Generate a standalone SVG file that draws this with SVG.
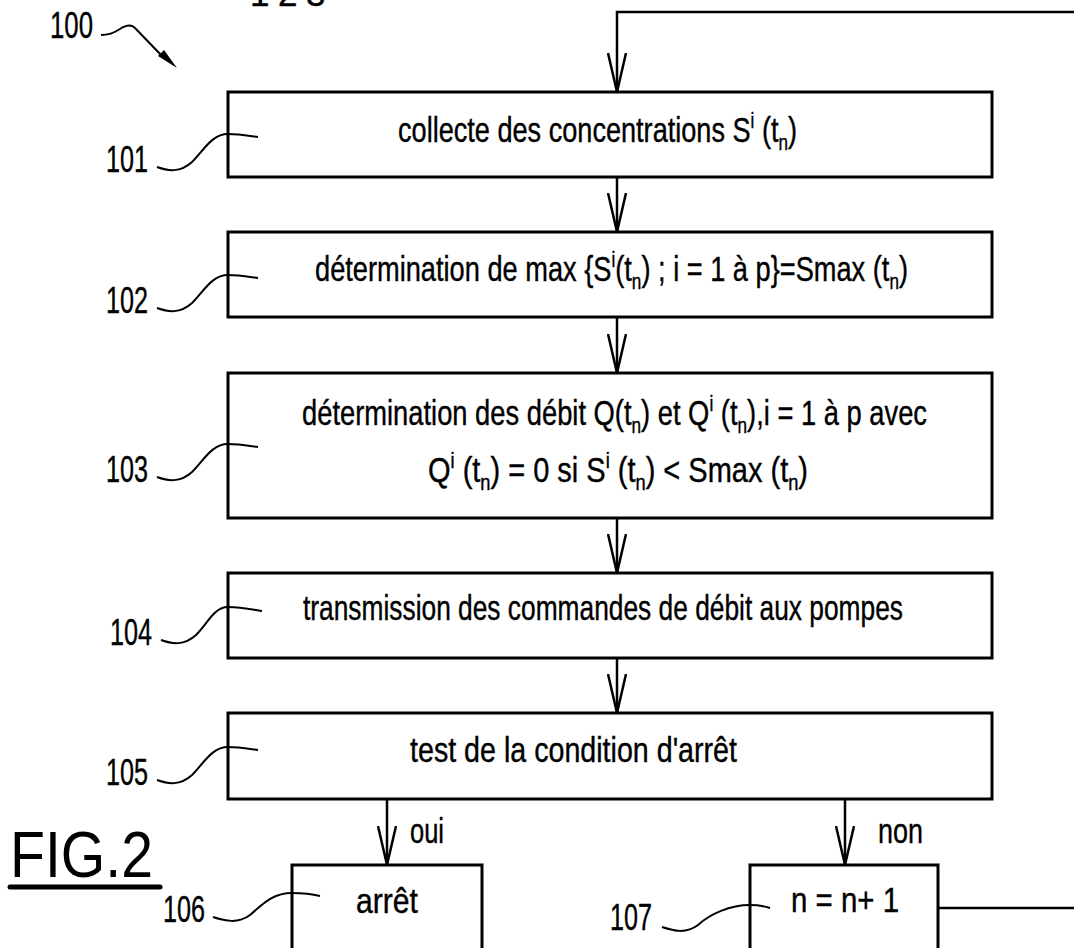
<svg xmlns="http://www.w3.org/2000/svg" width="1074" height="948" viewBox="0 0 1074 948">
<style>
.box{fill:#fff;stroke:#000;stroke-width:3}
.ln{fill:none;stroke:#000;stroke-width:2.5}
.ld{fill:none;stroke:#000;stroke-width:2}
.t{font-family:"Liberation Sans",Arial,sans-serif;font-size:35px;fill:#000;stroke:#000;stroke-width:0.4}
.lb{font-family:"Liberation Sans",Arial,sans-serif;font-size:36px;fill:#000;stroke:#000;stroke-width:0.4}
.s{font-size:22px}
</style>
<defs>
<marker id="v" viewBox="0 0 40 20" refX="39" refY="10" markerWidth="40" markerHeight="20" markerUnits="userSpaceOnUse" orient="auto">
<path d="M0,1 L39,10 L0,19" fill="none" stroke="#000" stroke-width="2.5"/>
</marker>
</defs>
<rect width="1074" height="948" fill="#fff"/>
<g id="top-cut">
<text x="250" y="6" class="t" font-size="22">1</text>
<text x="278" y="6" class="t" font-size="22">2</text>
<text x="306" y="6" class="t" font-size="22">3</text>
</g>
<g id="connectors">
<path class="ln" d="M1074,12 L617,12 L617,92" marker-end="url(#v)"/>
<path class="ln" d="M617,177 L617,232" marker-end="url(#v)"/>
<path class="ln" d="M617,317 L617,373" marker-end="url(#v)"/>
<path class="ln" d="M617,518 L617,573" marker-end="url(#v)"/>
<path class="ln" d="M617,658 L617,713" marker-end="url(#v)"/>
<path class="ln" d="M387,799 L387,865" marker-end="url(#v)"/>
<path class="ln" d="M845,799 L845,865" marker-end="url(#v)"/>
<path class="ln" d="M938,908 L1074,908"/>
<text x="410" y="843" class="t" textLength="34" lengthAdjust="spacingAndGlyphs">oui</text>
<text x="878" y="843" class="t" textLength="45" lengthAdjust="spacingAndGlyphs">non</text>
</g>
<g id="n100">
<text x="50" y="38" class="lb" textLength="43" lengthAdjust="spacingAndGlyphs">100</text>
<path class="ld" d="M101,35 C109,35 114,33 120,29 C126,25 132,24 136,29 L162,56"/>
<path d="M158,56 L177,68 L164,50 Z" fill="#000"/>
</g>
<g id="n101">
<rect class="box" x="228" y="92" width="764" height="85"/>
<text x="398" y="142" class="t" textLength="399" lengthAdjust="spacingAndGlyphs">collecte des concentrations S<tspan class="s" dy="-14">i</tspan><tspan dy="14"> (t</tspan><tspan class="s" dy="8">n</tspan><tspan dy="-8">)</tspan></text>
<text x="106" y="172" class="lb" textLength="42" lengthAdjust="spacingAndGlyphs">101</text>
<path class="ld" d="M157,167 C168,171 180,173 192,162 C204,150 212,134 228,134 C240,134 250,136 258,137"/>
</g>
<g id="n102">
<rect class="box" x="228" y="232" width="764" height="85"/>
<text x="315" y="281" class="t" textLength="593" lengthAdjust="spacingAndGlyphs">détermination de max {S<tspan class="s" dy="-14">i</tspan><tspan dy="14">(t</tspan><tspan class="s" dy="8">n</tspan><tspan dy="-8">) ; i = 1 à p}=Smax (t</tspan><tspan class="s" dy="8">n</tspan><tspan dy="-8">)</tspan></text>
<text x="106" y="313" class="lb" textLength="42" lengthAdjust="spacingAndGlyphs">102</text>
<path class="ld" d="M157,308 C168,312 180,314 192,303 C204,291 212,275 228,275 C240,275 250,277 258,278"/>
</g>
<g id="n103">
<rect class="box" x="228" y="373" width="764" height="145"/>
<text x="302" y="425" class="t" textLength="625" lengthAdjust="spacingAndGlyphs">détermination des débit Q(t<tspan class="s" dy="8">n</tspan><tspan dy="-8">) et Q</tspan><tspan class="s" dy="-14">i</tspan><tspan dy="14"> (t</tspan><tspan class="s" dy="8">n</tspan><tspan dy="-8">),i = 1 à p avec</tspan></text>
<text x="428" y="482" class="t" textLength="380" lengthAdjust="spacingAndGlyphs">Q<tspan class="s" dy="-14">i</tspan><tspan dy="14"> (t</tspan><tspan class="s" dy="8">n</tspan><tspan dy="-8">) = 0 si S</tspan><tspan class="s" dy="-14">i</tspan><tspan dy="14"> (t</tspan><tspan class="s" dy="8">n</tspan><tspan dy="-8">) &lt; Smax (t</tspan><tspan class="s" dy="8">n</tspan><tspan dy="-8">)</tspan></text>
<text x="106" y="482" class="lb" textLength="42" lengthAdjust="spacingAndGlyphs">103</text>
<path class="ld" d="M157,477 C168,481 180,483 192,472 C204,460 212,444 228,444 C240,444 250,446 258,447"/>
</g>
<g id="n104">
<rect class="box" x="228" y="573" width="764" height="85"/>
<text x="303" y="620" class="t" textLength="600" lengthAdjust="spacingAndGlyphs">transmission des commandes de débit aux pompes</text>
<text x="110" y="645" class="lb" textLength="42" lengthAdjust="spacingAndGlyphs">104</text>
<path class="ld" d="M161,640 C172,644 184,646 196,635 C208,623 214,607 228,607 C240,607 250,609 262,611"/>
</g>
<g id="n105">
<rect class="box" x="228" y="713" width="764" height="86"/>
<text x="410" y="762" class="t" textLength="327" lengthAdjust="spacingAndGlyphs">test de la condition d'arrêt</text>
<text x="106" y="785" class="lb" textLength="42" lengthAdjust="spacingAndGlyphs">105</text>
<path class="ld" d="M157,780 C168,784 180,786 192,775 C204,763 212,747 228,747 C240,747 250,749 258,750"/>
</g>
<g id="fig">
<text x="10" y="877" font-family="Liberation Sans, Arial, sans-serif" font-size="64" textLength="143" lengthAdjust="spacingAndGlyphs">FIG.2</text>
<line x1="10" y1="887" x2="160" y2="887" stroke="#000" stroke-width="5" stroke-linecap="round"/>
</g>
<g id="n106">
<rect class="box" x="292" y="865" width="190" height="100"/>
<text x="387" y="913" class="t" text-anchor="middle" textLength="62" lengthAdjust="spacingAndGlyphs">arrêt</text>
<text x="163" y="922" class="lb" textLength="42" lengthAdjust="spacingAndGlyphs">106</text>
<path class="ld" d="M213,917 C225,921 238,924 250,915 C262,905 272,893 292,893 C302,893 312,894 320,896"/>
</g>
<g id="n107">
<rect class="box" x="750" y="865" width="188" height="100"/>
<text x="845" y="912" class="t" text-anchor="middle" textLength="108" lengthAdjust="spacingAndGlyphs">n = n+ 1</text>
<text x="610" y="930" class="lb" textLength="42" lengthAdjust="spacingAndGlyphs">107</text>
<path class="ld" d="M662,927 C674,931 686,934 698,925 C710,914 730,905 750,905 C758,905 764,906 770,908"/>
</g>
</svg>
